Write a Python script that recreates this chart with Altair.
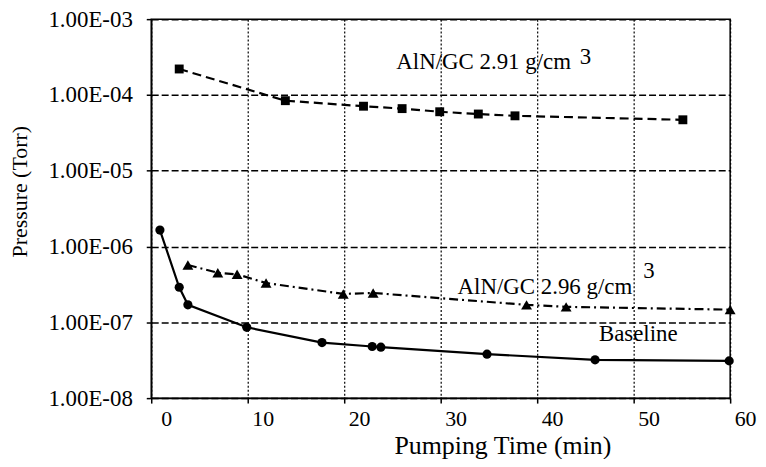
import altair as alt
import pandas as pd

# Baseline (circles, solid line)
base_t = [0.9, 2.9, 3.8, 9.9, 17.7, 22.9, 23.8, 34.8, 46.0, 59.9]
base_p = [1.65e-6, 2.9e-7, 1.7e-7, 8.6e-8, 5.4e-8, 4.8e-8, 4.7e-8, 3.8e-8, 3.2e-8, 3.1e-8]
# AlN/GC 2.91 g/cm3 (squares, dashed)
a291_t = [2.9, 13.9, 22.0, 26.0, 29.9, 33.9, 37.7, 55.1]
a291_p = [2.2e-4, 8.4e-5, 7.1e-5, 6.6e-5, 6.0e-5, 5.6e-5, 5.3e-5, 4.7e-5]
# AlN/GC 2.96 g/cm3 (triangles, dash-dot)
a296_t = [3.8, 6.9, 8.9, 11.9, 19.9, 23.0, 38.9, 43.0, 60.0]
a296_p = [5.7e-7, 4.5e-7, 4.3e-7, 3.3e-7, 2.37e-7, 2.44e-7, 1.7e-7, 1.6e-7, 1.47e-7]

x_ticks = [0, 10, 20, 30, 40, 50, 60]
y_ticks = [1e-3, 1e-4, 1e-5, 1e-6, 1e-7, 1e-8]

ann_text = ["AlN/GC 2.91 g/cm", "3", "AlN/GC 2.96 g/cm", "3", "Baseline"]
ann_t = [25.4, 44.4, 31.75, 51.0, 46.4]
ann_p = [2.21e-4, 2.57e-4, 2.39e-7, 3.87e-7, 5.6e-8]

FONT = "Liberation Serif, Times New Roman, serif"

xs = alt.Scale(domain=[0, 60], nice=False, zero=False)
ys = alt.Scale(type="log", domain=[1e-8, 1e-3], nice=False)

xaxis = alt.Axis(values=x_ticks, title="Pumping Time (min)", grid=True,
                 gridDash=[2, 2], gridColor="black", gridWidth=1.2, gridOpacity=1,
                 domainColor="black", domainWidth=1.5, tickColor="black",
                 tickSize=5, tickWidth=1.5, labelOffset=15, labelPadding=6,
                 labelFlush=False, labelOverlap=False,
                 labelFont=FONT, labelFontSize=22, labelColor="black",
                 titleFont=FONT, titleFontSize=26, titleFontWeight="normal",
                 titleColor="black", titleX=353, titleY=35, titleBaseline="top")
yaxis = alt.Axis(values=y_ticks, title="Pressure (Torr)", grid=True,
                 gridDash=[7, 3], gridColor="black", gridWidth=1.5, gridOpacity=1,
                 domainColor="black", domainWidth=1.5, tickColor="black",
                 tickSize=5, tickWidth=1.5, labelPadding=14,
                 labelFlush=False, labelOverlap=False,
                 labelExpr="'1.00E-0' + (-round(log(datum.value)/LN10))",
                 labelFont=FONT, labelFontSize=23, labelColor="black",
                 titleFont=FONT, titleFontSize=22, titleFontWeight="normal",
                 titleColor="black", titlePadding=16, titleY=173)

def series(ts, ps, dash, shape, size):
    df = pd.DataFrame({"t": ts, "p": ps})
    enc = dict(x=alt.X("t:Q", scale=xs, axis=xaxis), y=alt.Y("p:Q", scale=ys, axis=yaxis))
    line_kwargs = dict(color="black", strokeWidth=2.2)
    if dash:
        line_kwargs["strokeDash"] = dash
    line = alt.Chart(df).mark_line(**line_kwargs).encode(**enc)
    pts = alt.Chart(df).mark_point(filled=True, shape=shape, size=size,
                                   color="black", opacity=1).encode(**enc)
    return line + pts

base = series(base_t, base_p, None, "circle", 85)
s291 = series(a291_t, a291_p, [9, 5], "square", 80)
s296 = series(a296_t, a296_p, [9, 4, 2, 4], "triangle-up", 120)

ann_df = pd.DataFrame({"t": ann_t, "p": ann_p, "label": ann_text})
ann = alt.Chart(ann_df).mark_text(align="left", baseline="alphabetic", font=FONT,
                                  fontSize=23, color="black").encode(
    x=alt.X("t:Q", scale=xs, axis=xaxis),
    y=alt.Y("p:Q", scale=ys, axis=yaxis),
    text="label:N")

chart = alt.layer(s291, s296, base, ann).properties(
    width=582, height=381,
    autosize=alt.AutoSizeParams(type="none"),
    padding={"left": 144, "top": 10, "right": 28, "bottom": 60},
    background="white",
).configure_view(stroke="black", strokeWidth=1.5)

chart.save("out.html", embed_options={"renderer": "svg", "actions": False})
